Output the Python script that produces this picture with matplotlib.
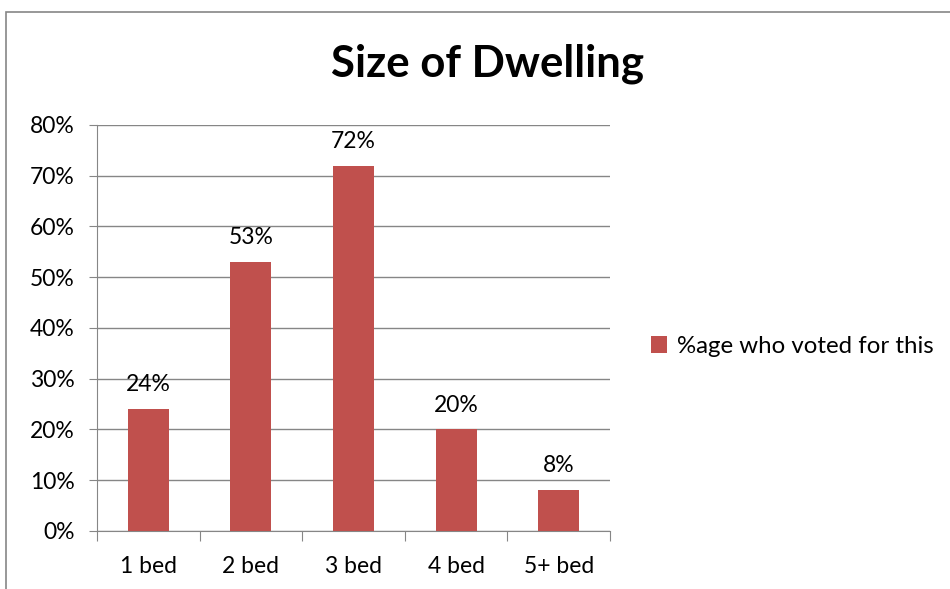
import matplotlib.pyplot as plt
from matplotlib.patches import Rectangle
from matplotlib.ticker import FuncFormatter, MultipleLocator

plt.rcParams['font.family'] = ['Lato', 'DejaVu Sans']

# survey results
categories = ['1 bed', '2 bed', '3 bed', '4 bed', '5+ bed']
votes = [24, 53, 72, 20, 8]
series_name = '%age who voted for this'

bar_color = '#C0504D'
axis_gray = '#868686'

fig = plt.figure(figsize=(9.5, 5.89), dpi=100)
ax = fig.add_axes([0.1021, 0.0985, 0.5400, 0.6893])

x = range(len(categories))
bars = ax.bar(x, votes, width=0.4, color=bar_color, label=series_name, zorder=3)

for xi, v in zip(x, votes):
    ax.annotate(f'{v}%', (xi, v), xytext=(0, 10), textcoords='offset points',
                ha='center', va='bottom', fontsize=16.5)

ax.set_xlim(-0.5, len(categories) - 0.5)
ax.set_ylim(0, 80)
ax.yaxis.set_major_locator(MultipleLocator(10))
ax.yaxis.set_major_formatter(FuncFormatter(lambda v, p: f'{v:.0f}%'))
ax.grid(axis='y', color=axis_gray, linewidth=1, zorder=0)

ax.set_xticks([i - 0.5 for i in range(len(categories) + 1)])
ax.set_xticklabels([])
ax.set_xticks(list(x), minor=True)
ax.set_xticklabels(categories, minor=True)
ax.tick_params(axis='x', which='major', length=7, color=axis_gray, direction='out')
ax.tick_params(axis='x', which='minor', length=0, pad=18, labelsize=16.5)
ax.tick_params(axis='y', length=6, color=axis_gray, labelsize=16.5, pad=10)

for side in ['top', 'right']:
    ax.spines[side].set_visible(False)
for side in ['left', 'bottom']:
    ax.spines[side].set_color(axis_gray)

fig.text(0.513, 0.891, 'Size of Dwelling', ha='center', va='center',
         fontsize=31.5, fontweight='bold')

ax.legend(loc='center left', bbox_to_anchor=(0.662, 0.412),
          bbox_transform=fig.transFigure, frameon=False, fontsize=17.3,
          handlelength=0.68, handleheight=0.68, handletextpad=0.42)

# outer chart frame
fig.patches.append(Rectangle((0.0063, -0.1), 1.1, 1.08, transform=fig.transFigure,
                             fill=False, edgecolor=axis_gray, linewidth=1.2))

fig.savefig('out.png', dpi=100)
